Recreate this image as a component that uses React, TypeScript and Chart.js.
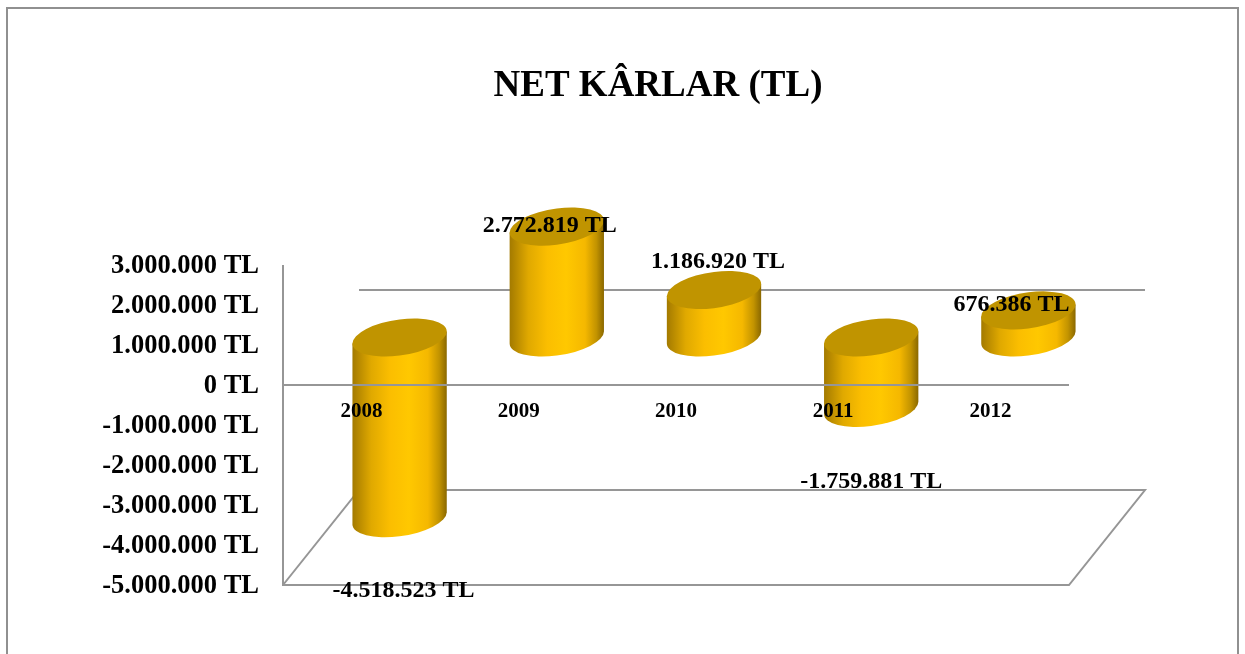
import React, { useEffect, useRef } from "react";
import { Chart, registerables } from "chart.js";

Chart.register(...registerables);

const years = ["2008", "2009", "2010", "2011", "2012"];
const netProfit = [-4518523, 2772819, 1186920, -1759881, 676386];
const titleText = "NET KÂRLAR (TL)";
const FONT = '"Liberation Serif"';
const LINE = "#969696";
const depthX = 76;
const depthY = -95;
const labelShift = [
  [4, 73],
  [-7, -1],
  [4, -28],
  [0, 74],
  [-17, -6],
];

const money = (v: number) =>
  String(Math.abs(v)).replace(/\B(?=(\d{3})+$)/g, ".");
const tl = (v: number) => (v < 0 ? "-" : "") + money(v) + " TL";

// A sheared ellipse: its left and right ends have vertical tangents, so the
// cylinder's straight sides join it without a corner.
function arc(
  ctx: CanvasRenderingContext2D,
  cx: number,
  cy: number,
  w: number,
  from: number,
  to: number,
  ccw: boolean
) {
  const a = w / 2;
  const b = w * 0.192;
  const shear = 0.128;
  ctx.save();
  ctx.transform(1, -shear, 0, 1, cx, cy);
  ctx.ellipse(0, 0, a, b, 0, from, to, ccw);
  ctx.restore();
}

const frame = {
  id: "frame",
  afterLayout(chart: any) {
    // the title sits a little left of the plot's centre
    const t = chart.titleBlock;
    t.left = 71;
    t.right = chart.width;
  },
  beforeDraw(chart: any) {
    const { ctx, width, height } = chart;
    ctx.save();
    ctx.fillStyle = "#fff";
    ctx.fillRect(0, 0, width, height);
    ctx.strokeStyle = "#909090";
    ctx.lineWidth = 2;
    ctx.strokeRect(7, 8, 1231, 700);
    ctx.restore();
  },
  beforeDatasetsDraw(chart: any) {
    const { ctx, chartArea: a, scales } = chart;
    const z = scales.y.getPixelForValue(0);
    const b = a.bottom;
    ctx.save();
    ctx.strokeStyle = LINE;
    ctx.lineWidth = 2;
    ctx.beginPath();
    ctx.moveTo(a.left, a.top);
    ctx.lineTo(a.left, b);
    ctx.lineTo(a.right, b);
    ctx.lineTo(a.right + depthX, b + depthY);
    ctx.lineTo(a.left + depthX, b + depthY);
    ctx.lineTo(a.left, b);
    ctx.moveTo(a.left + depthX, z + depthY);
    ctx.lineTo(a.right + depthX, z + depthY);
    ctx.stroke();
    ctx.restore();
  },
  afterDatasetsDraw(chart: any) {
    const { ctx, chartArea: a, scales } = chart;
    const bars = chart.getDatasetMeta(0).data;
    bars.forEach((el: any) => {
      const cx = el.x + depthX / 2;
      const y1 = Math.min(el.y, el.base) + depthY / 2;
      const y2 = Math.max(el.y, el.base) + depthY / 2;
      const w = el.width;
      const lean = (w / 2) * 0.128;
      const g = ctx.createLinearGradient(cx - w / 2, 0, cx + w / 2, 0);
      g.addColorStop(0, "#a37a00");
      g.addColorStop(0.2, "#e0a900");
      g.addColorStop(0.4, "#fbbe00");
      g.addColorStop(0.6, "#ffc800");
      g.addColorStop(0.8, "#f5b800");
      g.addColorStop(0.92, "#c29300");
      g.addColorStop(1, "#8a6800");
      ctx.save();
      ctx.fillStyle = g;
      ctx.beginPath();
      ctx.moveTo(cx - w / 2, y1 + lean);
      ctx.lineTo(cx - w / 2, y2 + lean);
      arc(ctx, cx, y2, w, Math.PI, 0, true);
      ctx.lineTo(cx + w / 2, y1 - lean);
      ctx.closePath();
      ctx.fill();
      ctx.fillStyle = "#c09400";
      ctx.beginPath();
      arc(ctx, cx, y1, w, 0, Math.PI * 2, false);
      ctx.fill();
      ctx.restore();
    });
    const z = scales.y.getPixelForValue(0);
    ctx.save();
    ctx.strokeStyle = LINE;
    ctx.lineWidth = 2;
    ctx.beginPath();
    ctx.moveTo(a.left, z);
    ctx.lineTo(a.right, z);
    ctx.stroke();
    ctx.restore();
  },
  afterDraw(chart: any) {
    const { ctx } = chart;
    const bars = chart.getDatasetMeta(0).data;
    ctx.save();
    ctx.fillStyle = "#000";
    ctx.font = `bold 24px ${FONT}`;
    ctx.textAlign = "center";
    ctx.textBaseline = "middle";
    bars.forEach((el: any, i: number) => {
      const cx = el.x + depthX / 2;
      const cy = el.y + depthY / 2;
      ctx.fillText(tl(netProfit[i]), cx + labelShift[i][0], cy + labelShift[i][1]);
    });
    ctx.restore();
  },
};

export default function App() {
  const ref = useRef<HTMLCanvasElement | null>(null);
  useEffect(() => {
    const chart = new Chart(ref.current!, {
      type: "bar",
      data: {
        labels: years,
        datasets: [
          {
            data: netProfit,
            backgroundColor: "rgba(255,192,0,0)",
            categoryPercentage: 1,
            barPercentage: 0.6,
          },
        ],
      },
      options: {
        responsive: false,
        animation: false,
        layout: { padding: { left: 0, right: 176, top: 0, bottom: 69 } },
        plugins: {
          legend: { display: false },
          tooltip: { enabled: false },
          title: {
            display: true,
            text: titleText,
            color: "#000",
            font: { family: FONT, size: 37, weight: "bold", lineHeight: 1.2 },
            padding: { top: 64, bottom: 156.6 },
          },
        },
        scales: {
          x: {
            position: { y: 0 },
            grid: { display: false, drawTicks: false },
            border: { display: false },
            ticks: {
              z: 1,
              color: "#000",
              padding: 14,
              maxRotation: 0,
              font: { family: FONT, size: 21, weight: "bold" },
            },
          },
          y: {
            min: -5000000,
            max: 3000000,
            grid: { display: false, drawTicks: false },
            border: { display: false },
            afterFit(s: any) {
              s.width = 283;
            },
            ticks: {
              stepSize: 1000000,
              color: "#000",
              padding: 24,
              labelOffset: 1.5,
              autoSkip: false,
              font: { family: FONT, size: 26.5, weight: "bold" },
              callback: (v: any) => tl(Number(v)),
            },
          },
        },
      },
      plugins: [frame],
    } as any);
    return () => chart.destroy();
  }, []);
  return (
    <canvas
      ref={ref}
      width={1245}
      height={654}
      style={{ position: "fixed", left: 0, top: 0, display: "block" }}
    />
  );
}
